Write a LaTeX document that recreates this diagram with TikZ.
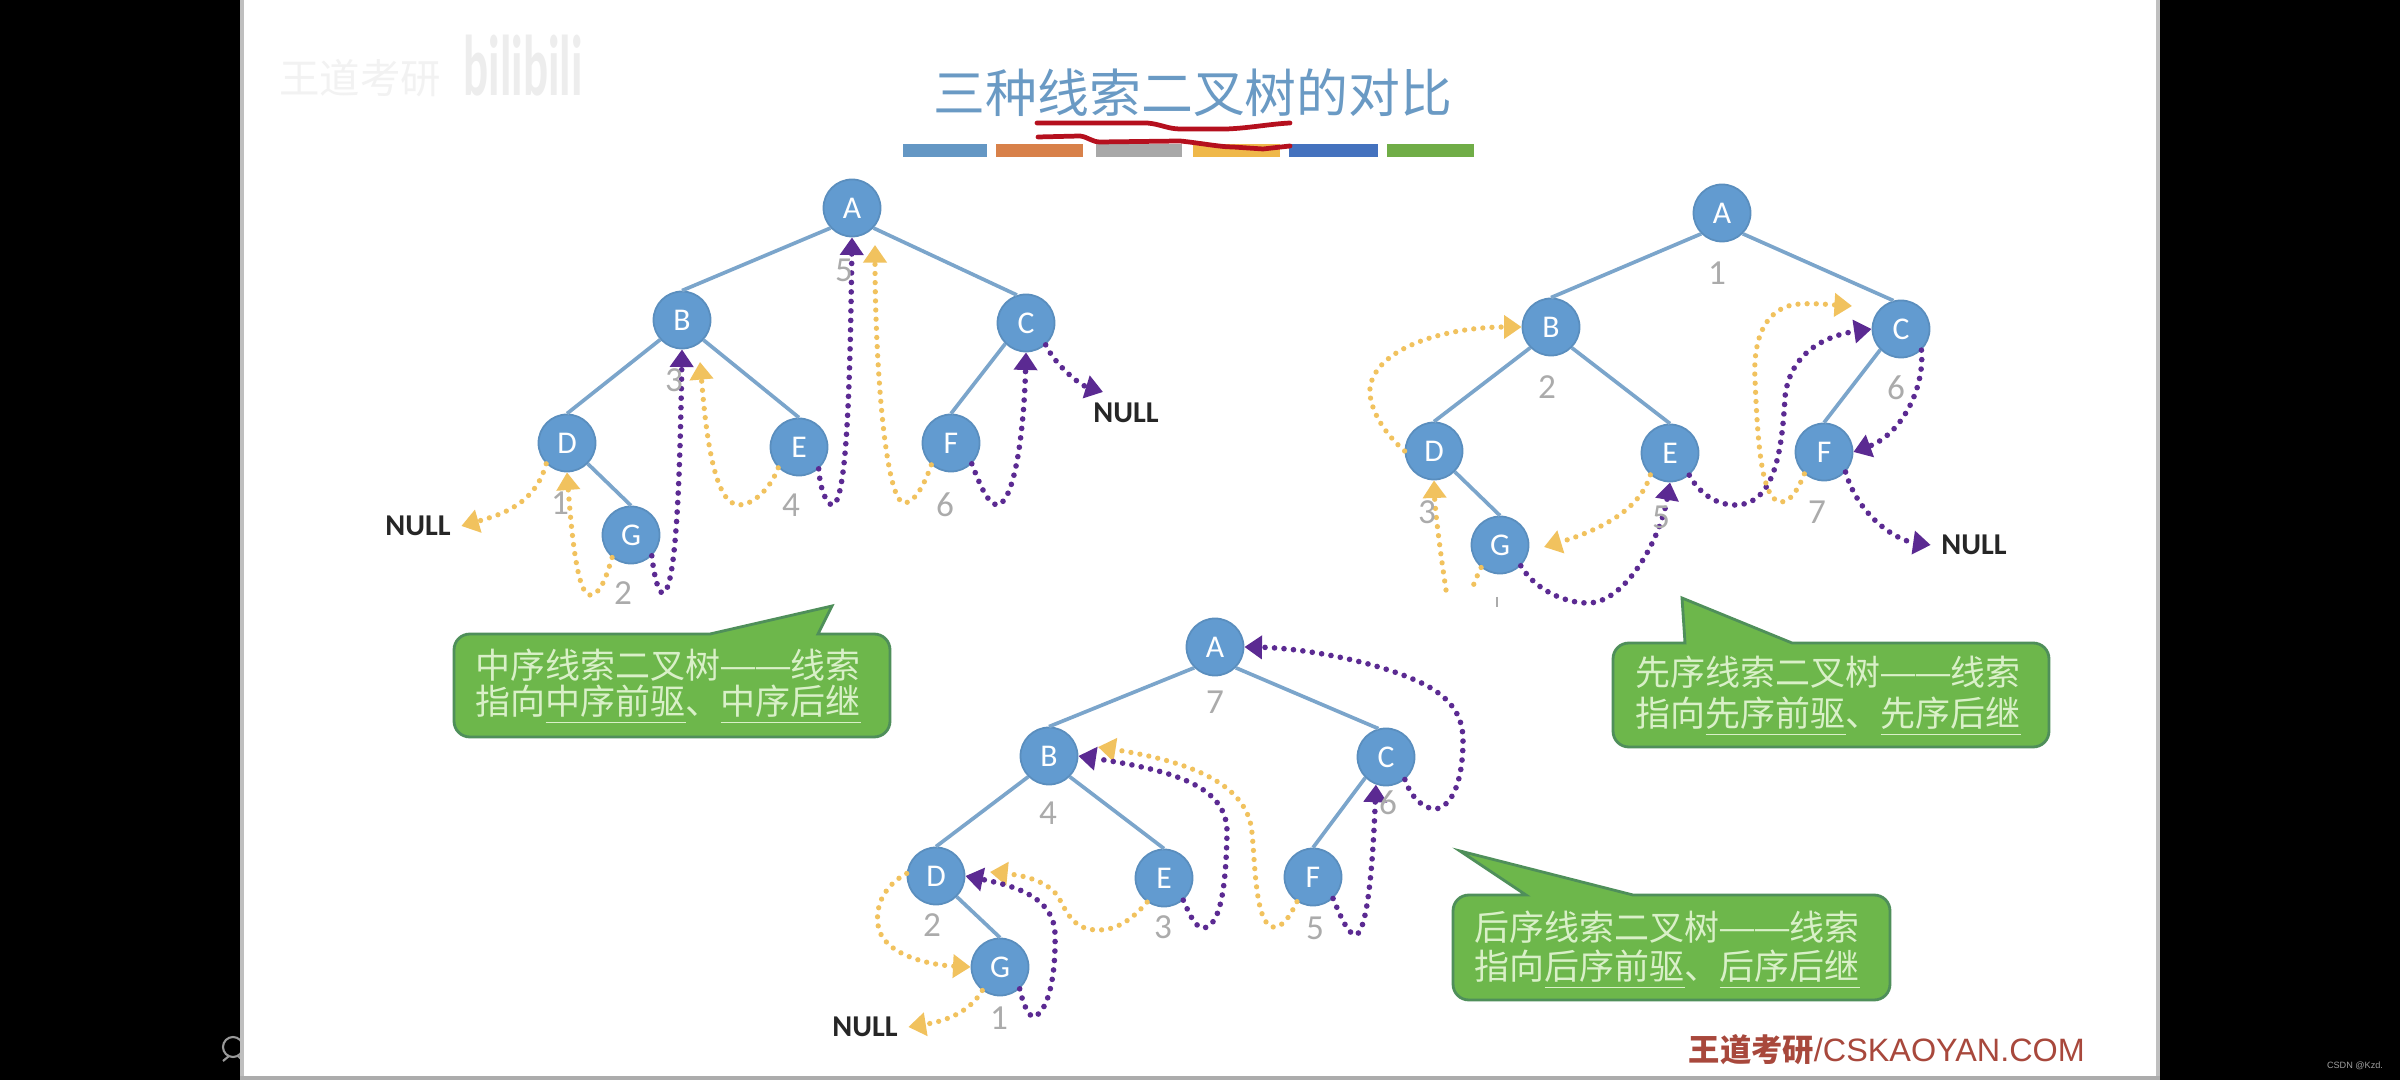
\documentclass[tikz,border=0pt]{standalone}
\usepackage{fontspec}
\setmainfont{Carlito}
\newfontfamily\cjk{Noto Sans CJK SC}
\newfontfamily\arialfont{Liberation Sans}
\usetikzlibrary{arrows.meta,calc}
\definecolor{slidetitle}{HTML}{6A9AC4}
\definecolor{nodeblue}{HTML}{629BD0}
\definecolor{nodeedge}{HTML}{5A8EBE}
\definecolor{linkblue}{HTML}{7BA5CB}
\definecolor{threadgold}{HTML}{F1C25E}
\definecolor{threadpurple}{HTML}{5B2A92}
\definecolor{ordergrey}{HTML}{ABABAB}
\definecolor{calloutfill}{HTML}{6DB74B}
\definecolor{calloutedge}{HTML}{4F8F5A}
\definecolor{callouttext}{HTML}{D9F0C8}
\definecolor{scribble}{HTML}{B5101E}
\definecolor{brandred}{HTML}{A8483C}
\definecolor{barblue}{HTML}{6497C4}
\definecolor{barorange}{HTML}{D8814A}
\definecolor{bargrey}{HTML}{A8A8A8}
\definecolor{bargold}{HTML}{EFB84A}
\definecolor{bardeep}{HTML}{4472BE}
\definecolor{bargreen}{HTML}{70AD47}
\tikzset{
  treenode/.style={circle,fill=nodeblue,draw=nodeedge,line width=0.5pt,minimum size=0.57cm,inner sep=0pt,
    text=white,font=\fontsize{9pt}{10pt}\selectfont},
  treelink/.style={draw=linkblue,line width=1.05pt},
  goldstub/.style={draw=threadgold,line width=1.5pt,line cap=round,dash pattern=on 0pt off 2.6pt},
  goldthread/.style={goldstub,-{Triangle[width=6.5pt,length=5pt,fill=threadgold]}},
  purplethread/.style={draw=threadpurple,line width=1.6pt,line cap=round,dash pattern=on 0pt off 2.7pt,
    -{Triangle[width=6.5pt,length=5pt,fill=threadpurple]}},
  orderlabel/.style={text=ordergrey,inner sep=0pt,font=\fontsize{10pt}{11pt}\selectfont},
  nulllabel/.style={text=black!85,inner sep=0.1cm,font=\fontsize{8.6pt}{10pt}\selectfont\bfseries},
  calloutbox/.style={fill=calloutfill,draw=calloutedge,line width=0.8pt},
  callouttxt/.style={text=callouttext,inner sep=0pt,anchor=west,font=\fontsize{9.95pt}{12pt}\selectfont\cjk},
  scribbleline/.style={draw=scribble,line width=1.35pt,line cap=round,line join=round},
}
% rounded bubble with a sharp pointer: x0 y0 x1 y1, pointer base left and right, tip x y
\newcommand{\calloutshape}[8]{%
  \draw[calloutbox] (#7,#8) -- (#6,#2) -- (#3-16,#2)
    .. controls (#3-7,#2) and (#3,#2+7) .. (#3,#2+16) -- (#3,#4-16)
    .. controls (#3,#4-7) and (#3-7,#4) .. (#3-16,#4) -- (#1+16,#4)
    .. controls (#1+7,#4) and (#1,#4-7) .. (#1,#4-16) -- (#1,#2+16)
    .. controls (#1,#2+7) and (#1+7,#2) .. (#1+16,#2) -- (#5,#2) -- cycle;}
% one dash centred in a full-width cell, so that a pair stays apart
\newcommand{\celldash}{\makebox[0.35cm][c]{\scalebox{1.22}[1]{—}}}
\begin{document}
\begin{tikzpicture}[x=0.01cm,y=-0.01cm]
\useasboundingbox (0,0) rectangle (2400,1080);

% screen surround, player icon and the slide
\fill[black] (0,0) rectangle (2400,1080);
\draw[gray!80,line width=0.6pt] (233,1047) circle[radius=10];
\draw[gray!80,line width=0.6pt] (229,1056) -- (223,1061);
\draw[gray!80,line width=0.6pt] (238,1056) -- (243,1061);
\fill[white] (240,0) rectangle (2160,1080);
\fill[gray!50] (240,0) rectangle (244,1080);
\fill[gray!50] (2156,0) rectangle (2160,1080);
\fill[gray!65] (240,1076) rectangle (2160,1080);
\node[inner sep=0pt] (csdn) at (2355,1066)
  {\fontsize{2.6pt}{3pt}\selectfont\color{gray!75}\arialfont CSDN @Kzd.};

% faint logo in the slide corner
\node[inner sep=0pt,text=black!5] (logotext) at (360,78)
  {\fontsize{11.5pt}{12pt}\selectfont\cjk 王道考研};
\node[inner sep=0pt,text=black!7,yscale=1.75,xscale=0.95] (logobili) at (523,66)
  {\fontsize{14pt}{15pt}\selectfont\bfseries bilibili};

% heading and its coloured bars
\node[inner sep=0pt,text=slidetitle] (heading) at (1193,93)
  {\fontsize{14.75pt}{16pt}\selectfont\cjk 三种线索二叉树的对比};
\fill[barblue]   (903,144) rectangle (987,157);
\fill[barorange] (996,144) rectangle (1083,157);
\fill[bargrey]   (1096,144) rectangle (1182,157);
\fill[bargold]   (1193,144) rectangle (1280,157);
\fill[bardeep]   (1289,144) rectangle (1378,157);
\fill[bargreen]  (1387,144) rectangle (1474,157);
\draw[scribbleline] (1037,123) -- (1147,123) .. controls (1160,124) and (1168,129) .. (1180,129)
  -- (1227,129) .. controls (1250,128) and (1270,124) .. (1290,123);
\draw[scribbleline] (1038,137) -- (1080,136) .. controls (1088,137) and (1092,142) .. (1100,142)
  -- (1180,141) .. controls (1200,143) and (1220,147) .. (1233,147) -- (1263,149) -- (1290,146);

% in-order threaded tree
\node[treenode] (a1) at (852,208) {A};
\node[treenode] (b1) at (682,320) {B};
\node[treenode] (c1) at (1026,323) {C};
\node[treenode] (d1) at (567,443) {D};
\node[treenode] (e1) at (799,447) {E};
\node[treenode] (f1) at (951,443) {F};
\node[treenode] (g1) at (631,535) {G};
\draw[treelink] (a1.-137) -- (b1.north);
\draw[treelink] (a1.-43) -- (c1.108);
\draw[treelink] (b1.-138) -- (d1.north);
\draw[treelink] (b1.-43) -- (e1.north);
\draw[treelink] (c1.-135) -- (f1.north);
\draw[treelink] (d1.-45) -- (g1.north);
\node[nulllabel] (nullin1) at (418,526) {NULL};
\node[nulllabel] (nullin2) at (1126,413) {NULL};
\coordinate (tipe1) at (700,362);
\coordinate (tipf1) at (875,245);
\coordinate (tipc1) at (1103,392);
\draw[goldthread] (d1.-135) .. controls (535,505) and (500,515) .. (nullin1.east);
\draw[goldthread] (g1.-130) .. controls (606,578) and (600,595) .. (590,595)
  .. controls (578,595) and (572,540) .. (d1.south);
\draw[purplethread] (g1.-45) .. controls (654,575) and (658,593) .. (663,593)
  .. controls (676,590) and (680,480) .. (b1.south);
\draw[goldthread] (e1.-135) .. controls (770,490) and (752,505) .. (739,505)
  .. controls (712,505) and (705,420) .. (tipe1);
\draw[purplethread] (e1.-48) .. controls (820,488) and (826,505) .. (833,505)
  .. controls (846,500) and (850,400) .. (a1.south);
\draw[goldthread] (f1.-132) .. controls (925,483) and (915,503) .. (904,503)
  .. controls (884,500) and (875,350) .. (tipf1);
\draw[purplethread] (f1.-45) .. controls (980,485) and (988,505) .. (998,505)
  .. controls (1015,500) and (1024,430) .. (c1.south);
\draw[purplethread] (c1.-48) .. controls (1055,365) and (1080,385) .. (tipc1);
\node[orderlabel] (n1a) at (844,270) {5};
\node[orderlabel] (n1b) at (674,380) {3};
\node[orderlabel] (n1d) at (560,503) {1};
\node[orderlabel] (n1g) at (623,593) {2};
\node[orderlabel] (n1e) at (791,505) {4};
\node[orderlabel] (n1f) at (945,505) {6};

% pre-order threaded tree
\node[treenode] (a2) at (1722,213) {A};
\node[treenode] (b2) at (1551,327) {B};
\node[treenode] (c2) at (1901,329) {C};
\node[treenode] (d2) at (1434,451) {D};
\node[treenode] (e2) at (1670,453) {E};
\node[treenode] (f2) at (1824,452) {F};
\node[treenode] (g2) at (1500,545) {G};
\draw[treelink] (a2.-135) -- (b2.north);
\draw[treelink] (a2.-45) -- (c2.105);
\draw[treelink] (b2.-135) -- (d2.north);
\draw[treelink] (b2.-45) -- (e2.north);
\draw[treelink] (c2.-135) -- (f2.north);
\draw[treelink] (d2.-45) -- (g2.north);
\node[nulllabel] (nullpre) at (1974,545) {NULL};
\coordinate (stubd2) at (1446,590);
\coordinate (stubg2) at (1471,592);
\coordinate (tipg2) at (1544,547);
\coordinate (tipc2) at (1852,306);
\draw[goldthread] (d2.180) .. controls (1375,425) and (1365,395) .. (1372,380)
  .. controls (1385,345) and (1450,327) .. (b2.west);
\draw[goldthread] (stubd2) .. controls (1440,550) and (1435,510) .. (d2.south);
\draw[goldstub] (g2.-130) .. controls (1476,578) and (1473,586) .. (stubg2);
\draw[goldthread] (e2.-132) .. controls (1640,510) and (1600,530) .. (tipg2);
\draw[purplethread] (g2.-45) .. controls (1535,590) and (1565,603) .. (1588,603)
  .. controls (1625,603) and (1660,540) .. (e2.south);
\draw[purplethread] (e2.-49) .. controls (1700,495) and (1718,505) .. (1735,505)
  .. controls (1775,505) and (1782,450) .. (1785,397)
  .. controls (1790,350) and (1830,335) .. (c2.180);
\draw[goldthread] (f2.-132) .. controls (1798,490) and (1790,502) .. (1781,502)
  .. controls (1762,500) and (1758,450) .. (1755,380)
  .. controls (1752,325) and (1775,305) .. (1800,304)
  .. controls (1815,303) and (1835,305) .. (tipc2);
\draw[purplethread] (c2.-46) .. controls (1925,390) and (1900,435) .. (f2.east);
\draw[purplethread] (f2.-43) .. controls (1858,515) and (1895,540) .. (nullpre.west);
\node[orderlabel] (n2a) at (1717,273) {1};
\node[orderlabel] (n2b) at (1547,387) {2};
\node[orderlabel] (n2c) at (1896,388) {6};
\node[orderlabel] (n2d) at (1427,512) {3};
\node[orderlabel] (n2e) at (1661,517) {5};
\node[orderlabel] (n2f) at (1817,512) {7};
\draw[ordergrey,line width=0.5pt] (1497,597) -- (1497,607);

% post-order threaded tree
\node[treenode] (a3) at (1215,647) {A};
\node[treenode] (b3) at (1049,756) {B};
\node[treenode] (c3) at (1386,757) {C};
\node[treenode] (d3) at (936,876) {D};
\node[treenode] (e3) at (1164,878) {E};
\node[treenode] (f3) at (1313,877) {F};
\node[treenode] (g3) at (1000,967) {G};
\draw[treelink] (a3.-135) -- (b3.north);
\draw[treelink] (a3.-45) -- (c3.105);
\draw[treelink] (b3.-135) -- (d3.north);
\draw[treelink] (b3.-45) -- (e3.north);
\draw[treelink] (c3.-135) -- (f3.north);
\draw[treelink] (d3.-45) -- (g3.north);
\node[nulllabel] (nullpost) at (865,1027) {NULL};
\coordinate (tipb3) at (1098,747);
\coordinate (tipd3) at (990,872);
\draw[purplethread] (c3.-50) .. controls (1412,800) and (1425,809) .. (1436,809)
  .. controls (1455,805) and (1463,775) .. (1463,740)
  .. controls (1463,715) and (1450,695) .. (1415,680)
  .. controls (1370,660) and (1300,648) .. (a3.east);
\draw[goldthread] (f3.-123) .. controls (1288,920) and (1282,927) .. (1273,927)
  .. controls (1255,925) and (1255,860) .. (1252,833)
  .. controls (1248,780) and (1180,760) .. (tipb3);
\draw[purplethread] (e3.-49) .. controls (1190,915) and (1195,928) .. (1204,928)
  .. controls (1222,925) and (1226,880) .. (1227,833)
  .. controls (1228,785) and (1170,770) .. (b3.east);
\draw[goldthread] (e3.-125) .. controls (1130,922) and (1115,930) .. (1098,930)
  .. controls (1075,930) and (1068,915) .. (1060,900)
  .. controls (1050,880) and (1020,875) .. (tipd3);
\draw[purplethread] (f3.-47) .. controls (1340,915) and (1348,935) .. (1356,935)
  .. controls (1368,930) and (1373,860) .. (c3.-110);
\draw[purplethread] (g3.-48) .. controls (1022,1000) and (1028,1017) .. (1034,1017)
  .. controls (1050,1010) and (1056,970) .. (1055,933)
  .. controls (1053,895) and (1010,885) .. (d3.east);
\draw[goldthread] (d3.175) .. controls (885,885) and (875,905) .. (878,925)
  .. controls (882,955) and (930,965) .. (g3.west);
\draw[goldthread] (g3.-127) .. controls (968,1015) and (940,1022) .. (nullpost.east);
\node[orderlabel] (n3a) at (1215,702) {7};
\node[orderlabel] (n3b) at (1048,813) {4};
\node[orderlabel] (n3c) at (1388,803) {6};
\node[orderlabel] (n3d) at (932,925) {2};
\node[orderlabel] (n3e) at (1163,927) {3};
\node[orderlabel] (n3f) at (1315,928) {5};
\node[orderlabel] (n3g) at (999,1018) {1};

% callouts
\calloutshape{454}{634}{890}{737}{710}{818}{832}{606}
\node[callouttxt] (cin1) at (475,665) {中序线索二叉树\celldash\celldash 线索};
\node[callouttxt] (cin2) at (475,705) {指向\underline{中序前驱}、\underline{中序后继}};

\calloutshape{1613}{643}{2049}{747}{1685}{1792}{1682}{598}
\node[callouttxt] (cpre1) at (1635,672) {先序线索二叉树\celldash\celldash 线索};
\node[callouttxt] (cpre2) at (1635,717) {指向\underline{先序前驱}、\underline{先序后继}};

\calloutshape{1453}{895}{1890}{1000}{1526}{1633}{1460}{851}
\node[callouttxt] (cpost1) at (1474,927) {后序线索二叉树\celldash\celldash 线索};
\node[callouttxt] (cpost2) at (1474,970) {指向\underline{后序前驱}、\underline{后序后继}};

% brand line
\node[inner sep=0pt,anchor=west,text=brandred] (brand) at (1688,1050)
  {\fontsize{8.9pt}{10pt}\selectfont\cjk\bfseries 王道考研\arialfont\mdseries\fontsize{9.2pt}{10pt}\selectfont /CSKAOYAN.COM};
\end{tikzpicture}
\end{document}
